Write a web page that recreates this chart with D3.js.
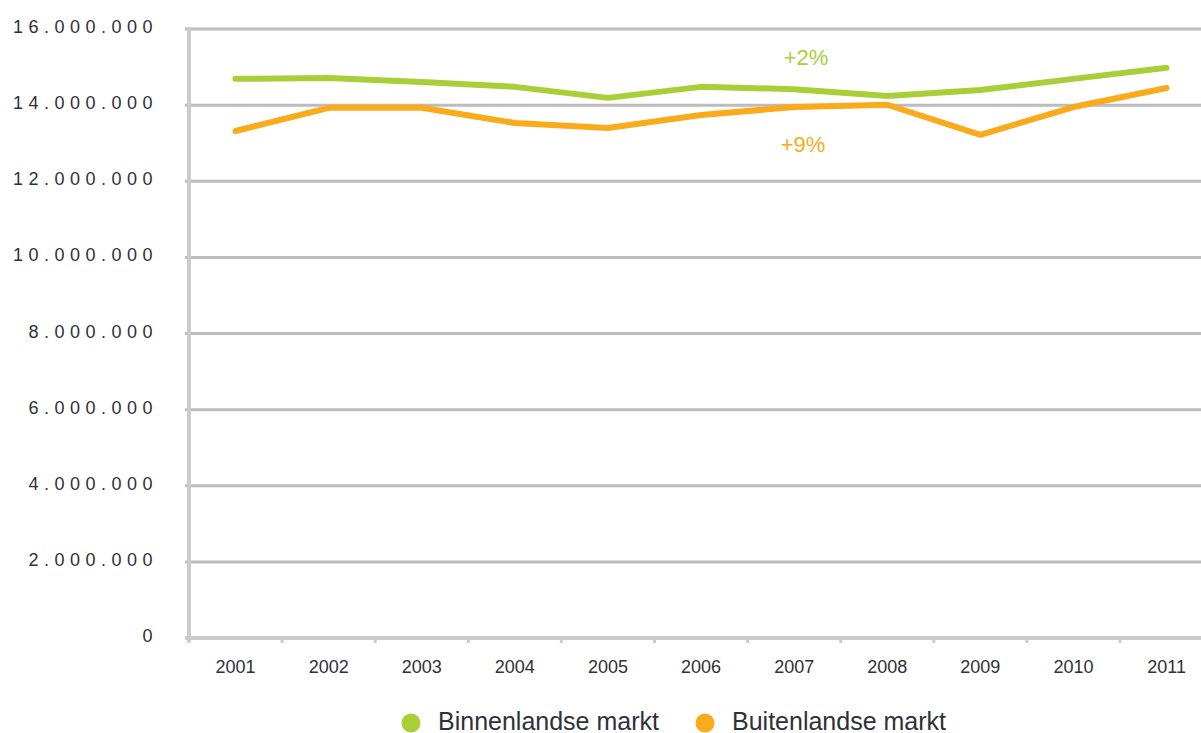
<!DOCTYPE html>
<html>
<head>
<meta charset="utf-8">
<script src="https://cdn.jsdelivr.net/npm/d3@7"></script>
<style>
  body { margin: 0; background: #fff; font-family: "Liberation Sans", Arial, sans-serif; }
</style>
</head>
<body>
<div id="chart"></div>
<script>
const svgWidth = 1201;
const svgHeight = 733;

// data
const years = ['2001', '2002', '2003', '2004', '2005', '2006', '2007', '2008', '2009', '2010', '2011'];
const binnenlands = [14690000, 14710000, 14610000, 14480000, 14190000, 14480000, 14420000, 14240000, 14400000, 14690000, 14980000];
const buitenlands = [13320000, 13930000, 13930000, 13530000, 13400000, 13740000, 13950000, 14010000, 13220000, 13950000, 14450000];
const yTicks = [0, 2000000, 4000000, 6000000, 8000000, 10000000, 12000000, 14000000, 16000000];
const seriesNames = ['Binnenlandse markt', 'Buitenlandse markt'];
const notes = ['+2%', '+9%'];

const color = {
    green: '#a9cf38',
    orange: '#f9ab1c',
    text: '#2f3138'
};

const svg = d3.select('#chart')
    .append('svg')
    .attr('width', svgWidth)
    .attr('height', svgHeight);

// x as band scale, categories centered between the ticks
const x = d3.scaleBand()
    .domain(years)
    .range([189, 189 + 11 * 93.1]);

const y = d3.scaleLinear()
    .domain([0, 16000000])
    .range([638, 29]);

const fmt = v => d3.format(',')(v).replace(/,/g, '.');

// gridlines
svg.append('g').attr('class', 'grid')
    .selectAll('line')
    .data(yTicks.filter(d => d > 0))
    .enter().append('line')
    .attr('x1', 185)
    .attr('x2', svgWidth)
    .attr('y1', d => y(d))
    .attr('y2', d => y(d))
    .style('stroke', '#bcbcbe')
    .style('stroke-width', 3);

// y labels
svg.append('g').attr('class', 'ylabels')
    .selectAll('text')
    .data(yTicks)
    .enter().append('text')
    .attr('x', 158)
    .attr('y', d => y(d) + 4)
    .style('text-anchor', 'end')
    .style('font-size', '18px')
    .style('letter-spacing', '5.5px')
    .style('fill', color.text)
    .text(d => fmt(d));

// y axis line
svg.append('line')
    .attr('x1', 189).attr('x2', 189)
    .attr('y1', y(16000000) - 2).attr('y2', y(0) + 3)
    .style('stroke', '#cacbcd')
    .style('stroke-width', 4);

// x axis line
svg.append('line')
    .attr('x1', 185).attr('x2', svgWidth)
    .attr('y1', y(0)).attr('y2', y(0))
    .style('stroke', '#cacbcd')
    .style('stroke-width', 4);

// x ticks between categories
svg.append('g').attr('class', 'xticks')
    .selectAll('line')
    .data(years)
    .enter().append('line')
    .attr('x1', d => x(d))
    .attr('x2', d => x(d))
    .attr('y1', y(0))
    .attr('y2', y(0) + 5)
    .style('stroke', '#cacbcd')
    .style('stroke-width', 3);

// x labels
svg.append('g').attr('class', 'xlabels')
    .selectAll('text')
    .data(years)
    .enter().append('text')
    .attr('x', d => x(d) + x.bandwidth() / 2)
    .attr('y', 673)
    .style('text-anchor', 'middle')
    .style('font-size', '18px')
    .style('fill', color.text)
    .text(d => d);

const line = d3.line()
    .x((d, i) => x(years[i]) + x.bandwidth() / 2)
    .y(d => y(d));

[[binnenlands, color.green], [buitenlands, color.orange]].forEach(([vals, c]) => {
    svg.append('path')
        .datum(vals)
        .attr('d', line)
        .style('fill', 'none')
        .style('stroke', c)
        .style('stroke-width', 6)
        .style('stroke-linecap', 'round')
        .style('stroke-linejoin', 'round');
});

// percentage notes
svg.append('text')
    .attr('x', 806).attr('y', 65)
    .style('text-anchor', 'middle')
    .style('font-size', '22px')
    .style('fill', color.green)
    .text(notes[0]);

svg.append('text')
    .attr('x', 803).attr('y', 152)
    .style('text-anchor', 'middle')
    .style('font-size', '22px')
    .style('fill', color.orange)
    .text(notes[1]);

// legend
const legend = svg.append('g').attr('class', 'legend');
const legendX = [411, 705];
const legendColors = [color.green, color.orange];

seriesNames.forEach((name, i) => {
    legend.append('circle')
        .attr('cx', legendX[i])
        .attr('cy', 723)
        .attr('r', 9.5)
        .style('fill', legendColors[i]);
    legend.append('text')
        .attr('x', legendX[i] + 27)
        .attr('y', 730)
        .style('font-size', '25px')
        .style('fill', color.text)
        .text(name);
});
</script>
</body>
</html>
